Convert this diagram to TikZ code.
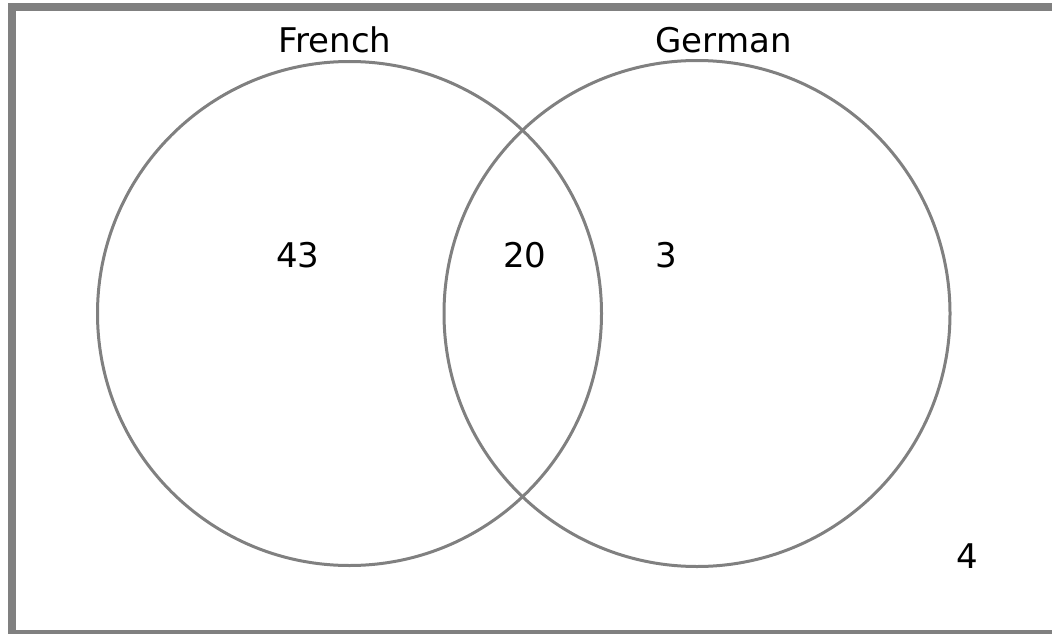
\documentclass[tikz,border=0pt]{standalone}
\usepackage{fontspec}
\setmainfont{DejaVu Sans}
\definecolor{linegray}{RGB}{128,128,128}
\begin{document}
\begin{tikzpicture}[x=1pt,y=-1pt,
  set/.style={draw=linegray,line width=3pt},
  lbl/.style={inner sep=0pt,anchor=base,font=\fontsize{34}{40}\selectfont}]
\useasboundingbox (0,0) rectangle (1052,634);
\clip (0,0) rectangle (1052,634);
\draw[draw=linegray,line width=8pt] (12,7.5) rectangle (1070,634);
\node[set,circle,minimum size=504pt,inner sep=0pt] (french) at (349.5,313.5) {};
\node[set,circle,minimum size=506pt,inner sep=0pt] (german) at (697,313.5) {};
\node[lbl] (lf) at (335,53) {French};
\node[lbl] (lg) at (723.5,53) {German};
\node[lbl] (n43) at (298,267) {43};
\node[lbl] (n20) at (525,267) {20};
\node[lbl] (n3) at (666,267) {3};
\node[lbl] (n4) at (967.5,568) {4};
\end{tikzpicture}
\end{document}
